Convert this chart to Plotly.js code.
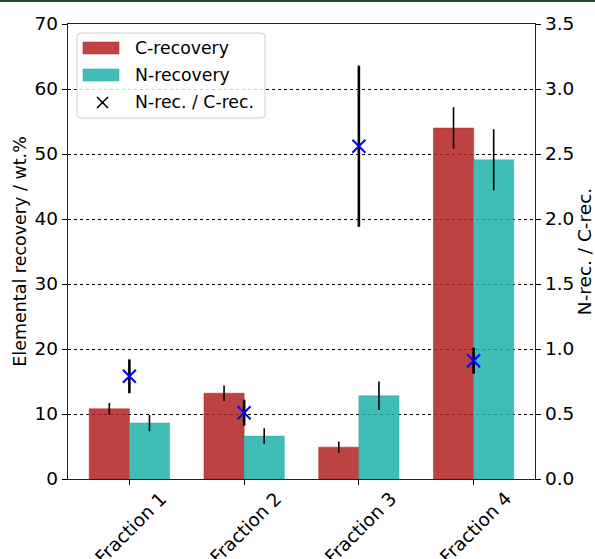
<!DOCTYPE html>
<html>
<head>
<meta charset="utf-8">
<script src="https://cdn.plot.ly/plotly-3.0.1.min.js"></script>
<style>
html,body{margin:0;padding:0;background:#fff;overflow:hidden;}
#topbar{position:absolute;left:0;top:0;width:595px;height:2px;background:#1b4d2b;z-index:5;}
#chart{width:595px;height:559px;}
</style>
</head>
<body>
<div id="topbar"></div>
<div id="chart"></div>
<script>
var categories = ["Fraction 1", "Fraction 2", "Fraction 3", "Fraction 4"];
var catPos = [0, 1, 2, 3];
var cRecovery = [10.8, 13.2, 4.9, 54.0];
var cRecoveryErr = [0.9, 1.2, 0.85, 3.2];
var nRecovery = [8.6, 6.6, 12.8, 49.1];
var nRecoveryErr = [1.25, 1.2, 2.2, 4.7];
var ratio = [0.79, 0.51, 2.56, 0.91];
var ratioErr = [0.13, 0.1, 0.62, 0.1];
var seriesNames = ["C-recovery", "N-recovery", "N-rec. / C-rec."];

var cColor = 'rgba(178,34,34,0.85)';
var nColor = 'rgba(32,178,170,0.85)';

var barW = 0.35;
var cX = catPos.map(function(p){return p - barW/2;});
var nX = catPos.map(function(p){return p + barW/2;});

var traces = [
  {type:'bar', x:cX, y:cRecovery, width:barW, name:seriesNames[0], showlegend:false,
   marker:{color:cColor, line:{color:'rgba(178,34,34,0.5)', width:1}},
   error_y:{type:'data', array:cRecoveryErr, visible:true, color:'#000', thickness:1.6, width:0}},
  {type:'bar', x:nX, y:nRecovery, width:barW, name:seriesNames[1], showlegend:false,
   marker:{color:nColor, line:{color:'rgba(32,178,170,0.5)', width:1}},
   error_y:{type:'data', array:nRecoveryErr, visible:true, color:'#000', thickness:1.6, width:0}},
  {type:'scatter', mode:'markers', x:catPos, y:ratio, yaxis:'y2', name:seriesNames[2], showlegend:false,
   marker:{symbol:'x-thin', size:13, color:'#0000ff', line:{color:'#0000ff', width:2}},
   error_y:{type:'data', array:ratioErr, visible:true, color:'#000', thickness:2.6, width:0}}
];

// geometry helpers (pixel -> paper) for the hand-drawn legend
var L = 68, R = 535, T = 24, B = 479;
function px(x){return (x - L)/(R - L);}
function py(y){return (B - y)/(B - T);}

var fs = 18.5;
var fnt = {family:'DejaVu Sans, sans-serif', size:fs, color:'#000'};
var legFnt = {family:'DejaVu Sans, sans-serif', size:17.3, color:'#000'};

var shapes = [
  {type:'path', xref:'paper', yref:'paper',
   path: (function(){
     var x0=px(77), x1=px(265), y0=py(118), y1=py(33), rx=4/(R-L), ry=4/(B-T);
     return 'M'+(x0+rx)+','+y1+' L'+(x1-rx)+','+y1+' Q'+x1+','+y1+' '+x1+','+(y1-ry)+
            ' L'+x1+','+(y0+ry)+' Q'+x1+','+y0+' '+(x1-rx)+','+y0+
            ' L'+(x0+rx)+','+y0+' Q'+x0+','+y0+' '+x0+','+(y0+ry)+
            ' L'+x0+','+(y1-ry)+' Q'+x0+','+y1+' '+(x0+rx)+','+y1+' Z';
   })(),
   fillcolor:'rgba(255,255,255,0.8)', line:{color:'#d0d0d0', width:1}, layer:'above'},
  {type:'rect', xref:'paper', yref:'paper', x0:px(83), x1:px(119), y0:py(54), y1:py(42),
   fillcolor:cColor, line:{color:'rgba(178,34,34,0.5)', width:1}, layer:'above'},
  {type:'rect', xref:'paper', yref:'paper', x0:px(83), x1:px(119), y0:py(81), y1:py(69),
   fillcolor:nColor, line:{color:'rgba(32,178,170,0.5)', width:1}, layer:'above'},
  {type:'line', xref:'paper', yref:'paper', x0:px(97), x1:px(108), y0:py(97), y1:py(108),
   line:{color:'#000', width:1.6}, layer:'above'},
  {type:'line', xref:'paper', yref:'paper', x0:px(97), x1:px(108), y0:py(108), y1:py(97),
   line:{color:'#000', width:1.6}, layer:'above'}
];

var legendY = [48, 75, 102];
var annotations = seriesNames.map(function(n, i){
  return {xref:'paper', yref:'paper', x:px(133), y:py(legendY[i]), text:n, showarrow:false,
          xanchor:'left', yanchor:'middle', font:legFnt};
});
categories.forEach(function(c, i){
  annotations.push({xref:'x', yref:'paper', x:catPos[i], y:py(485), text:c, showarrow:false,
    textangle:-45, xanchor:'center', yanchor:'top', xshift:2, font:fnt});
});

var layout = {
  width:595, height:559,
  margin:{l:L, r:595-R, t:T, b:559-B},
  paper_bgcolor:'#fff', plot_bgcolor:'#fff',
  font:fnt,
  barmode:'overlay',
  showlegend:false,
  shapes:shapes,
  annotations:annotations,
  xaxis:{range:[-0.535, 3.535], tickvals:catPos, ticktext:categories, showticklabels:false,
         ticks:'outside', ticklen:5, tickcolor:'#000', showline:true, linecolor:'#222', linewidth:1.2,
         mirror:true, showgrid:false, zeroline:false},
  yaxis:{range:[0,70], dtick:10, ticks:'outside', ticklen:5, tickcolor:'#000',
         showline:true, linecolor:'#222', linewidth:1.2, zeroline:false,
         showgrid:true, gridcolor:'#000', griddash:'dot', gridwidth:1, tickfont:fnt,
         title:{text:'Elemental recovery / wt.%', font:{family:'DejaVu Sans, sans-serif', size:17.5, color:'#000'}, standoff:3}},
  yaxis2:{range:[0,3.5], dtick:0.5, tickformat:'.1f', overlaying:'y', side:'right',
          ticks:'outside', ticklen:5, tickcolor:'#000', showline:true, linecolor:'#222', linewidth:1.2,
          showgrid:false, zeroline:false, tickfont:fnt,
          title:{text:'N-rec. / C-rec.', font:fnt, standoff:8}}
};
Plotly.newPlot('chart', traces, layout, {displayModeBar:false, staticPlot:true});
</script>
</body>
</html>
